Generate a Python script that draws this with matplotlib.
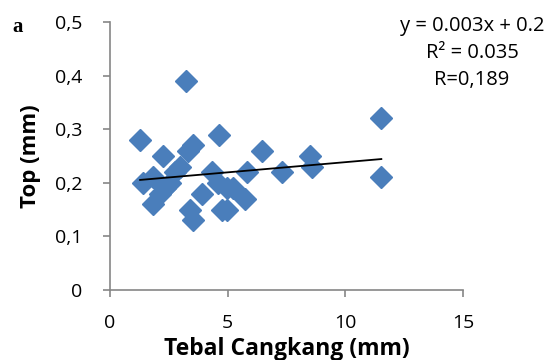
import numpy as np
import matplotlib
matplotlib.use("Agg")
import matplotlib.pyplot as plt

# Data
tebal = [3.23, 1.28, 4.64, 2.26, 3.53, 3.32, 6.47, 2.98, 2.77, 4.34, 5.83, 7.32,
         1.40, 1.83, 2.55, 2.34, 2.13, 4.60, 4.98, 5.23, 3.91, 1.83, 5.74, 3.40,
         4.77, 4.98, 3.53, 11.53, 11.53, 8.50, 8.60]
top = [0.39, 0.28, 0.29, 0.25, 0.27, 0.26, 0.26, 0.23, 0.22, 0.22, 0.22, 0.22,
       0.20, 0.21, 0.20, 0.19, 0.18, 0.20, 0.19, 0.19, 0.18, 0.16, 0.17, 0.15,
       0.15, 0.15, 0.13, 0.32, 0.21, 0.25, 0.23]
trend_slope = 0.0038
trend_intercept = 0.2005
x_ticks = [0, 5, 10, 15]
y_ticks = [0, 0.1, 0.2, 0.3, 0.4, 0.5]
y_ticklabels = ["0", "0,1", "0,2", "0,3", "0,4", "0,5"]

plt.rcParams['font.family'] = ['Open Sans', 'DejaVu Sans']

fig = plt.figure(figsize=(5.53, 3.60), dpi=100)
ax = fig.add_axes([110/553, 70/360, (463-110)/553, (290-22)/360])

ax.plot(tebal, top, linestyle='none', marker='D', markersize=11,
        color='#4A7EBB', markeredgecolor='#4A7EBB')
xs = np.array([min(tebal), max(tebal)])
ax.plot(xs, trend_slope*xs + trend_intercept, color='black', linewidth=1.3)

ax.set_xlim(0, 15)
ax.set_ylim(0, 0.5)
ax.set_xticks(x_ticks)
ax.set_xticklabels([str(t) for t in x_ticks])
ax.set_yticks(y_ticks)
ax.set_yticklabels(y_ticklabels)

for s in ['top', 'right']:
    ax.spines[s].set_visible(False)
for s in ['left', 'bottom']:
    ax.spines[s].set_color('#868686')
    ax.spines[s].set_linewidth(1.2)
ax.tick_params(axis='both', direction='out', length=5, width=1.2, color='#868686',
               labelsize=14, labelcolor='black')
ax.tick_params(axis='x', pad=12)
ax.tick_params(axis='y', pad=15)

ax.set_xlabel("Tebal Cangkang (mm)", fontsize=16.5, fontweight='bold', labelpad=4)
ax.set_ylabel("Top (mm)", fontsize=16, fontweight='bold', labelpad=10)

fig.text(12/553, 1 - 27/360, "a", fontsize=15, fontweight='bold',
         family='Liberation Serif', va='center', ha='left')
ax.text(472/553, 1 - 53/360, "y = 0.003x + 0.2\nR² = 0.035\nR=0,189",
        transform=fig.transFigure, ha='center', va='center', fontsize=14.5,
        linespacing=1.45)

fig.savefig("out.png", dpi=100)
